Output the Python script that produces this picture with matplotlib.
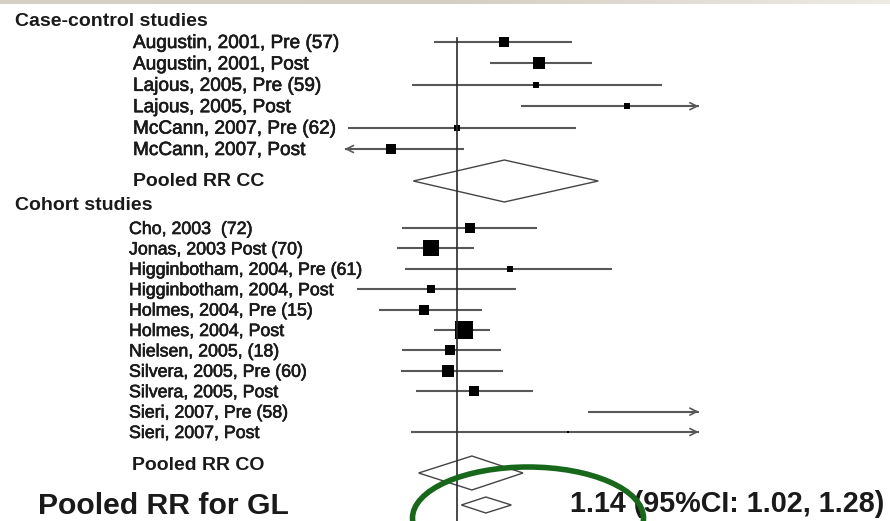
import numpy as np
import matplotlib
matplotlib.use("Agg")
import matplotlib.pyplot as plt
import matplotlib.patheffects as pe
from matplotlib.patches import Polygon, Ellipse
from matplotlib.colors import LinearSegmentedColormap
from matplotlib.transforms import blended_transform_factory

plt.rcParams['font.family'] = ['Liberation Sans', 'DejaVu Sans']

# ---- data: relative risks with 95% CI ----
cc_labels = ["Augustin, 2001, Pre (57)", "Augustin, 2001, Post",
             "Lajous, 2005, Pre (59)", "Lajous, 2005, Post",
             "McCann, 2007, Pre (62)", "McCann, 2007, Post"]
cc_rr = [1.24, 1.45, 1.43, 2.17, 1.00, 0.74]
cc_lo = [0.90, 1.16, 0.815, 1.34, 0.61, 0.50]
cc_hi = [1.69, 1.85, 2.54, 3.60, 1.72, 1.03]
cc_weight = [3.1, 5.4, 0.9, 0.9, 1.2, 2.8]

co_labels = ["Cho, 2003  (72)", "Jonas, 2003 Post (70)",
             "Higginbotham, 2004, Pre (61)", "Higginbotham, 2004, Post",
             "Holmes, 2004, Pre (15)", "Holmes, 2004, Post",
             "Nielsen, 2005, (18)", "Silvera, 2005, Pre (60)",
             "Silvera, 2005, Post", "Sieri, 2007, Pre (58)",
             "Sieri, 2007, Post"]
co_rr = [1.06, 0.89, 1.27, 0.89, 0.86, 1.03, 0.97, 0.96, 1.08, 3.60, 1.66]
co_lo = [0.78, 0.76, 0.79, 0.635, 0.70, 0.90, 0.78, 0.775, 0.83, 1.81, 0.81]
co_hi = [1.44, 1.08, 2.02, 1.31, 1.12, 1.16, 1.22, 1.23, 1.41, 6.50, 4.20]
co_weight = [2.8, 7.8, 0.9, 1.7, 2.8, 10.0, 2.8, 4.2, 3.4, 0.5, 0.3]

group_titles = ["Case-control studies", "Cohort studies"]
pooled_labels = ["Pooled RR CC", "Pooled RR CO"]
pooled_rr = [1.24, 1.07]
pooled_lo = [0.82, 0.84]
pooled_hi = [1.90, 1.35]

gl_label = "Pooled RR for GL"
gl_rr, gl_lo, gl_hi = 1.14, 1.02, 1.28

# ---- layout ----
W, H = 890, 521
fig = plt.figure(figsize=(W / 100, H / 100), dpi=100)
ax = fig.add_axes([0, 0, 1, 1])
ax.set_xscale('log')
px_per_ln = 220.0
ref_px = 457.0
ax.set_xlim(np.exp(-ref_px / px_per_ln), np.exp((W - ref_px) / px_per_ln))
ax.set_ylim(H, 0)
ax.axis('off')

# visible range of the CI lines; beyond it an arrow is drawn
clip_lo, clip_hi = 0.60, 3.0

tx = blended_transform_factory(ax.transAxes, ax.transData)

cc_y = 42 + 21.4 * np.arange(len(cc_labels))
co_y = 228 + 20.4 * np.arange(len(co_labels))
title_y = [21, 205]
pooled_y = [181, 473]
pooled_label_y = [182, 466]
pooled_label_x = [133, 132]
pooled_half = [21, 17]
gl_y = 505
gl_half = 8

line_col = '#585858'
txt_col = '#1a1a1a'
thick = [pe.withStroke(linewidth=0.45, foreground=txt_col)]


def draw_study(rr, lo, hi, w, y):
    a = max(lo, clip_lo)
    b = min(hi, clip_hi)
    ax.plot([a, b], [y, y], color=line_col, lw=1.5, solid_capstyle='butt', zorder=2)
    arrow = dict(arrowstyle='->,head_length=0.5,head_width=0.25', color=line_col,
                 lw=1.2, mutation_scale=10, shrinkA=0, shrinkB=0)
    if hi > clip_hi:
        ax.annotate('', xy=(clip_hi, y), xytext=(clip_hi * 0.97, y), arrowprops=arrow, zorder=2)
    if lo < clip_lo:
        ax.annotate('', xy=(clip_lo, y), xytext=(clip_lo * 1.03, y), arrowprops=arrow, zorder=2)
    if clip_lo <= rr <= clip_hi:
        side_px = 5.39 * np.sqrt(w)
        ax.plot([rr], [y], marker='s', ms=side_px * 0.72, color='black',
                mec='black', mew=0, zorder=3)


def draw_diamond(rr, lo, hi, y, half):
    poly = Polygon([(lo, y), (rr, y - half), (hi, y), (rr, y + half)], closed=True,
                   facecolor='white', edgecolor='#444444', lw=1.0, zorder=2)
    ax.add_patch(poly)


# reference line at RR = 1
ax.plot([1.0, 1.0], [38, H], color='#2a2a2a', lw=1.2, zorder=4)

for lab, r, l, h, w, y in zip(cc_labels, cc_rr, cc_lo, cc_hi, cc_weight, cc_y):
    draw_study(r, l, h, w, y)
    ax.text(133 / W, y + 1.5, lab, transform=tx, fontsize=13.7, va='center', ha='left',
            color=txt_col, path_effects=thick)

for lab, r, l, h, w, y in zip(co_labels, co_rr, co_lo, co_hi, co_weight, co_y):
    draw_study(r, l, h, w, y)
    ax.text(129 / W, y + 1.5, lab, transform=tx, fontsize=12.8, va='center', ha='left',
            color=txt_col, path_effects=thick)

for t, y in zip(group_titles, title_y):
    ax.text(15 / W, y, t, transform=tx, fontsize=14, fontweight='bold', va='center',
            ha='left', color=txt_col)

for lab, r, l, h, y, hh, ly, lx in zip(pooled_labels, pooled_rr, pooled_lo, pooled_hi,
                                       pooled_y, pooled_half, pooled_label_y, pooled_label_x):
    draw_diamond(r, l, h, y, hh)
    ax.text(lx / W, ly, lab, transform=tx, fontsize=14, fontweight='bold',
            va='center', ha='left', color=txt_col)

draw_diamond(gl_rr, gl_lo, gl_hi, gl_y, gl_half)
ax.text(38 / W, gl_y + 1, gl_label, transform=tx, fontsize=21.7, fontweight='bold',
        va='center', ha='left', color=txt_col)
ax.text(570 / W, 504, f"{gl_rr:.2f} (95%CI: {gl_lo:.2f}, {gl_hi:.2f})", transform=tx,
        fontsize=20.7, fontweight='bold', va='center', ha='left', color=txt_col)

# highlight around the overall estimate
ax.add_patch(Ellipse((528 / W, 1 - 518 / H), 231 / W, 102 / H, transform=fig.transFigure,
                     fill=False, ec='#17681a', lw=4.0, zorder=6))

# thin band along the top edge
band = fig.add_axes([0, 1 - 4 / H, 1, 4 / H])
grad = np.linspace(0, 1, 256)[None, :]
cmap = LinearSegmentedColormap.from_list('band', ['#d6d1c7', '#d3cec3', '#eeebe5'])
band.imshow(grad, aspect='auto', cmap=cmap)
band.axis('off')

fig.savefig('out.png', dpi=100)
